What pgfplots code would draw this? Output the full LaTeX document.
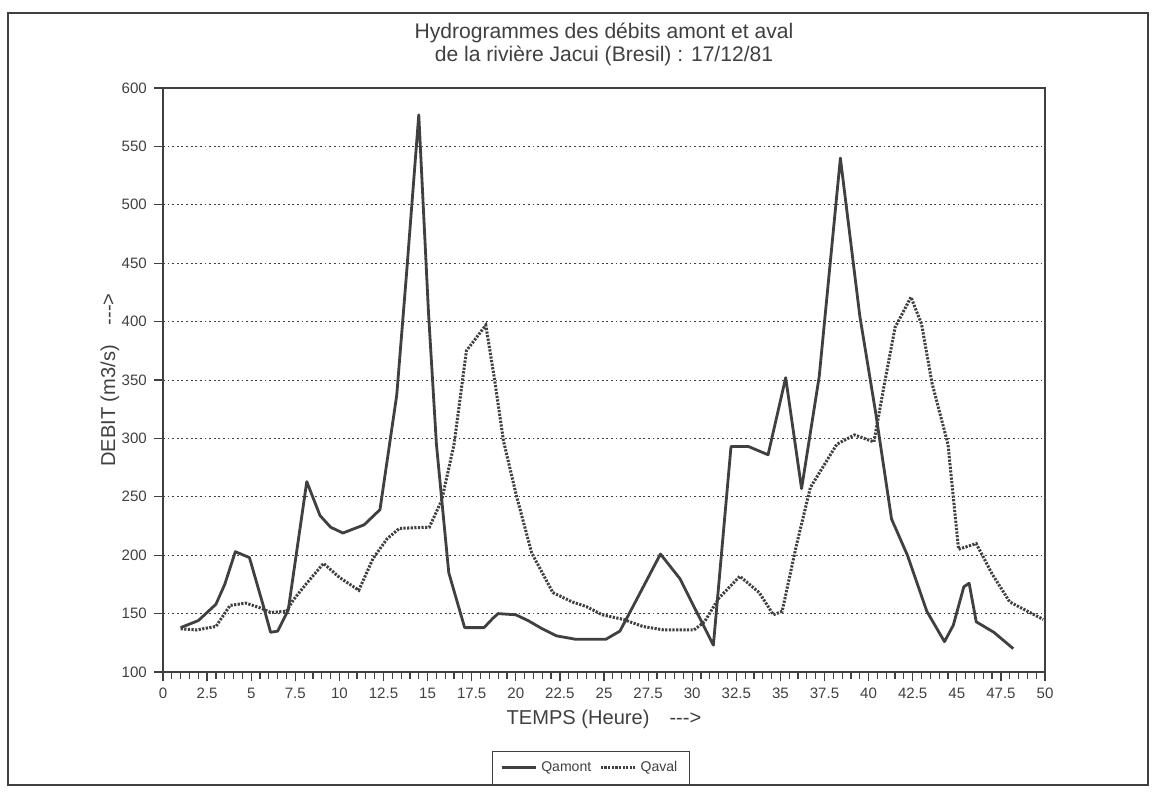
\documentclass[border=0pt]{standalone}
\usepackage{fontspec}
\setmainfont{Liberation Sans}
\usepackage{pgfplots}
\usepackage{pgfplotstable}
\pgfplotsset{compat=1.18}

\definecolor{ink}{gray}{0.25}

% Qamont (upstream) and Qaval (downstream)
\pgfplotstableread{
t    q
1    138
2    144
3    158
3.5  175
4.1  203
4.9  198
5.7  156
6.1  134
6.5  135
7.1  153
8.15 263
8.9  234
9.5  224
10.2 219
11.4 226
12.3 239
13.25 337
13.8 440
14.5 577
15.05 408
15.5 295
16.2 185
17.1 138
18.2 138
18.7 146
19.0 150
20.0 149
20.7 144
21.5 137
22.3 131
23.4 128
25.1 128
25.9 135
26.5 152
28.2 201
29.3 180
31.2 123
32.2 293
33.2 293
34.3 286
35.3 352
36.2 257
37.2 353
38.4 540
39.5 405
40.4 322
41.3 231
42.2 200
43.3 152
44.3 126
44.8 140
45.4 173
45.7 176
46.1 143
47.1 134
48.2 120
}\qamont

\pgfplotstableread{
t    q
1    137
1.9  136
3.0  139
3.8  157
4.7  159
5.5  155
6.1  151
7.0  152
7.4  162
8.15 176
9.1  193
10.0 181
11.1 170
11.9 197
12.7 214
13.4 223
15.1 224
15.8 247
16.5 295
17.2 375
18.3 397
18.8 350
19.3 298
20.05 250
20.9 202
22.1 168
23.2 160
24.0 156
24.9 149
26.1 145
27.2 139
28.4 136
30.1 136
30.7 143
31.5 163
32.7 182
33.8 168
34.6 149
35.1 152
35.9 208
36.7 258
38.2 295
39.2 303
40.3 297
40.9 347
41.5 395
42.4 421
43.0 398
43.6 347
44.5 295
45.1 205
46.1 210
47.0 184
48.0 160
49.9 145
}\qaval

\begin{document}
\begin{tikzpicture}
\begin{axis}[
    name=ax,
    scale only axis,
    width=15.435cm,
    height=10.22cm,
    xmin=0, xmax=50,
    ymin=100, ymax=600,
    xtick={0,2.5,5,7.5,10,12.5,15,17.5,20,22.5,25,27.5,30,32.5,35,37.5,40,42.5,45,47.5,50},
    ytick={100,150,...,600},
    minor x tick num=4,
    tick align=outside,
    xtick pos=bottom,
    ytick pos=left,
    major tick length=0.16cm,
    minor tick length=0.12cm,
    tick style={ink, line width=0.6pt},
    axis line style={ink, line width=0.7pt},
    ymajorgrids,
    major grid style={ink, line width=0.5pt, dash pattern=on 0.9pt off 1.4pt},
    /pgf/number format/assume math mode=true,
    ticklabel style={font=\fontsize{7.5}{8}\selectfont, text=ink},
    xlabel={TEMPS (Heure)\quad -{}-{}-{}>},
    ylabel={DEBIT (m3/s)\quad -{}-{}-{}>},
    label style={font=\fontsize{10}{12}\selectfont, text=ink},
    xlabel style={yshift=0.05cm},
    ylabel style={yshift=-0.2cm},
    title={Hydrogrammes des débits amont et aval\\de la rivière Jacui (Bresil) : 17/12/81},
    title style={align=center, font=\fontsize{10.5}{11.5}\selectfont, text=ink, yshift=0.05cm},
    legend columns=2,
    legend style={at={(0.485,-0.164)}, anchor=center, draw=ink, line width=0.5pt,
        font=\fontsize{7}{8}\selectfont, text=ink, inner ysep=3pt, inner xsep=4pt,
        /tikz/every even column/.append style={column sep=2pt}},
    legend image code/.code={\draw[#1] (0cm,0cm) -- (0.6cm,0cm);},
]
\addplot[ink, line width=1.4pt, line join=round] table[x=t, y=q] {\qamont};
\addlegendentry{Qamont}
\addplot[ink, line width=1.5pt, dash pattern=on 1.1pt off 0.7pt] table[x=t, y=q] {\qaval};
\addlegendentry{Qaval}
\end{axis}
\draw[ink, line width=0.6pt] ([xshift=-2.7125cm,yshift=-1.9775cm]ax.south west) rectangle ([xshift=1.8025cm,yshift=1.3125cm]ax.north east);
\pgfresetboundingbox
\path[use as bounding box] ([xshift=-2.8525cm,yshift=-2.0825cm]ax.south west) rectangle ([xshift=1.9075cm,yshift=1.54cm]ax.north east);
\end{tikzpicture}
\end{document}
